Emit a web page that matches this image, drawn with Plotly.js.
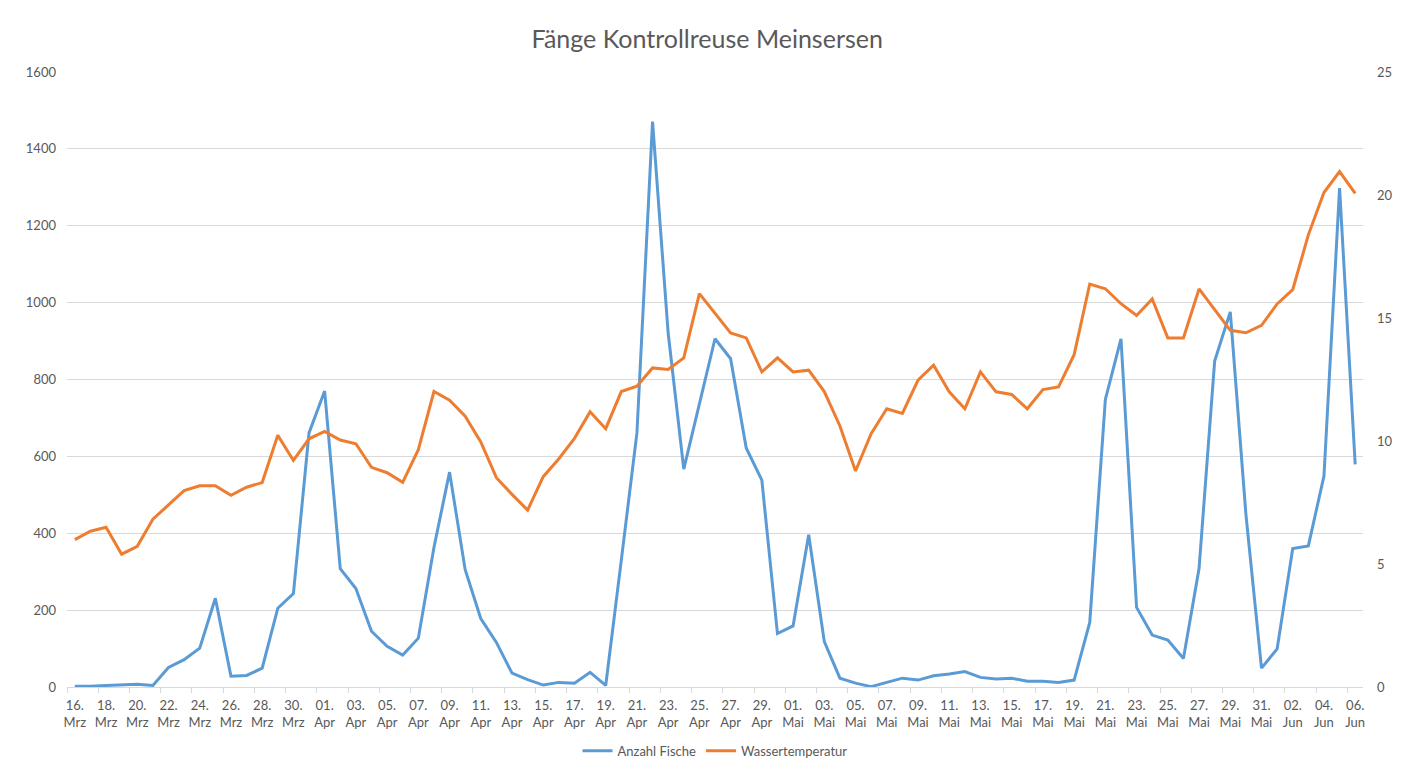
<!DOCTYPE html>
<html>
<head>
<meta charset="utf-8">
<script src="https://cdn.plot.ly/plotly-3.0.1.min.js"></script>
<style>
  html, body { margin: 0; padding: 0; background: #fff; }
  #chart { width: 1406px; height: 777px; }
</style>
</head>
<body>
<div id="chart"></div>
<script>
// one entry per day, 16. Mrz .. 06. Jun
const days = [
  '16. Mrz', '17. Mrz', '18. Mrz', '19. Mrz', '20. Mrz', '21. Mrz', '22. Mrz', '23. Mrz',
  '24. Mrz', '25. Mrz', '26. Mrz', '27. Mrz', '28. Mrz', '29. Mrz', '30. Mrz', '31. Mrz',
  '01. Apr', '02. Apr', '03. Apr', '04. Apr', '05. Apr', '06. Apr', '07. Apr', '08. Apr',
  '09. Apr', '10. Apr', '11. Apr', '12. Apr', '13. Apr', '14. Apr', '15. Apr', '16. Apr',
  '17. Apr', '18. Apr', '19. Apr', '20. Apr', '21. Apr', '22. Apr', '23. Apr', '24. Apr',
  '25. Apr', '26. Apr', '27. Apr', '28. Apr', '29. Apr', '30. Apr',
  '01. Mai', '02. Mai', '03. Mai', '04. Mai', '05. Mai', '06. Mai', '07. Mai', '08. Mai',
  '09. Mai', '10. Mai', '11. Mai', '12. Mai', '13. Mai', '14. Mai', '15. Mai', '16. Mai',
  '17. Mai', '18. Mai', '19. Mai', '20. Mai', '21. Mai', '22. Mai', '23. Mai', '24. Mai',
  '25. Mai', '26. Mai', '27. Mai', '28. Mai', '29. Mai', '30. Mai', '31. Mai',
  '01. Jun', '02. Jun', '03. Jun', '04. Jun', '05. Jun', '06. Jun'
]

const fische = [
  2, 2, 4, 5, 7, 4, 51, 71, 101, 231, 28, 30, 49, 205, 243, 661,
  770, 308, 256, 145, 106, 83, 127, 363, 559, 305, 178, 116, 36, 19, 5, 12,
  10, 38, 4, 330, 661, 1471, 921, 567, 738, 906, 854, 622, 538, 139,
  159, 396, 118, 23, 10, 1, 12, 23, 18, 29, 34, 40, 25, 21, 23, 15,
  15, 12, 18, 168, 748, 906, 207, 135, 122, 74, 308, 848, 976, 450, 49,
  99, 360, 367, 549, 1298, 579
]

const temperatur = [
  5.99, 6.33, 6.49, 5.40, 5.72, 6.82, 7.40, 7.98, 8.18, 8.18, 7.79, 8.12, 8.31, 10.23, 9.21, 10.09,
  10.39, 10.04, 9.89, 8.93, 8.71, 8.32, 9.65, 12.01, 11.66, 11.01, 9.96, 8.51, 7.83, 7.19, 8.55, 9.28,
  10.11, 11.19, 10.50, 12.01, 12.23, 12.97, 12.91, 13.38, 15.99, 15.21, 14.39, 14.19, 12.81, 13.38,
  12.81, 12.88, 12.01, 10.61, 8.78, 10.30, 11.31, 11.12, 12.47, 13.08, 12.00, 11.31, 12.81, 12.00, 11.89, 11.31,
  12.09, 12.20, 13.51, 16.38, 16.19, 15.58, 15.10, 15.77, 14.19, 14.19, 16.18, 15.34, 14.50, 14.40, 14.70,
  15.57, 16.15, 18.38, 20.10, 20.95, 20.07
]

const idx = days.map((_, i) => i)
// label every second day, tick marks at the left edge of each labelled day
const labelIdx = idx.filter(i => i % 2 === 0)
const labelText = labelIdx.map(i => days[i].replace(' ', '<br>'))
const tickEdges = labelIdx.map(i => i - 0.5)

const grey = '#595959'
const fontFam = 'Lato, "Open Sans", sans-serif'

let data = [
  {
    type: 'scatter',
    mode: 'lines',
    name: 'Anzahl Fische',
    x: idx,
    y: fische,
    line: { color: '#5B9BD5', width: 3 },
    hoverinfo: 'y'
  },
  {
    type: 'scatter',
    mode: 'lines',
    name: 'Wassertemperatur',
    x: idx,
    y: temperatur,
    yaxis: 'y2',
    line: { color: '#ED7D31', width: 3 },
    hoverinfo: 'y'
  }
]

let layout = {
  width: 1406,
  height: 777,
  paper_bgcolor: '#fff',
  plot_bgcolor: '#fff',
  font: { family: fontFam, size: 13, color: grey },
  margin: { l: 67, r: 43, t: 72, b: 89 },
  title: {
    text: 'Fänge Kontrollreuse Meinsersen',
    font: { family: fontFam, size: 25, color: grey },
    x: 0.503,
    xanchor: 'center',
    y: 0.95,
    yanchor: 'middle'
  },
  xaxis: {
    range: [-0.5, days.length - 0.5],
    tickmode: 'array',
    tickvals: labelIdx,
    ticktext: labelText,
    ticks: '',
    ticklabelstandoff: 6,
    showgrid: false,
    zeroline: false,
    showline: true,
    linecolor: '#d9d9d9',
    linewidth: 1,
    tickfont: { family: fontFam, size: 13, color: grey },
    minor: {
      tickmode: 'array',
      tickvals: tickEdges,
      ticks: 'outside',
      ticklen: 5,
      tickcolor: '#d9d9d9',
      tickwidth: 1,
      showgrid: false
    },
    fixedrange: true
  },
  yaxis: {
    range: [0, 1600],
    tickmode: 'linear',
    tick0: 0,
    dtick: 200,
    showgrid: true,
    gridcolor: '#d9d9d9',
    gridwidth: 1,
    zeroline: false,
    showline: false,
    ticks: '',
    ticklabelstandoff: 10,
    tickfont: { family: fontFam, size: 13, color: grey },
    automargin: false,
    fixedrange: true
  },
  yaxis2: {
    range: [0, 25],
    tickmode: 'linear',
    tick0: 0,
    dtick: 5,
    overlaying: 'y',
    side: 'right',
    showgrid: false,
    zeroline: false,
    showline: false,
    ticks: '',
    ticklabelstandoff: 13,
    tickfont: { family: fontFam, size: 13, color: grey },
    automargin: false,
    fixedrange: true
  },
  legend: {
    orientation: 'h',
    x: 0.5,
    xanchor: 'center',
    y: -0.102,
    yanchor: 'middle',
    font: { family: fontFam, size: 13, color: grey },
    itemwidth: 30,
    tracegroupgap: 0
  },
  showlegend: true
}

Plotly.newPlot('chart', data, layout, { displayModeBar: false, staticPlot: true })
</script>
</body>
</html>
